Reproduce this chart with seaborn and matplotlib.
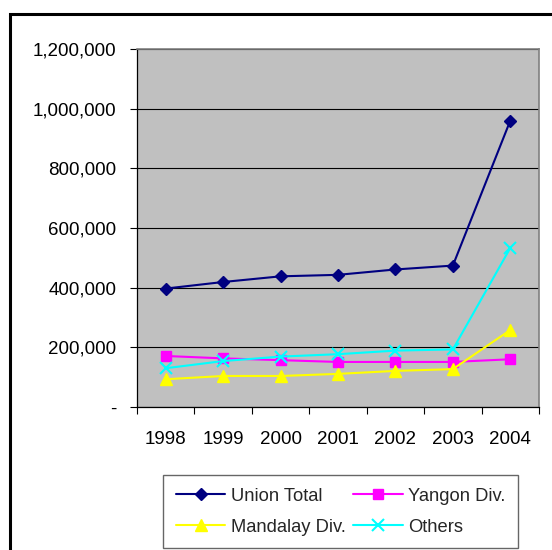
import matplotlib
matplotlib.use("Agg")
import matplotlib.pyplot as plt
import matplotlib.ticker as mticker
from matplotlib.patches import Rectangle
import seaborn as sns
import pandas as pd
import numpy as np

years = ["1998", "1999", "2000", "2001", "2002", "2003", "2004"]
union_total = [397000, 419000, 438000, 443000, 461000, 474000, 960000]
yangon_div = [171000, 163000, 157000, 151000, 151000, 151000, 160000]
mandalay_div = [93000, 104000, 104000, 111000, 121000, 127000, 258000]
others = [130000, 154000, 169000, 177000, 189000, 193000, 533000]
series_names = ["Union Total", "Yangon Div.", "Mandalay Div.", "Others"]
yticks = [0, 200000, 400000, 600000, 800000, 1000000, 1200000]

colors = {"Union Total": "#000080", "Yangon Div.": "#FF00FF",
          "Mandalay Div.": "#FFFF00", "Others": "#00FFFF"}
markers = {"Union Total": "D", "Yangon Div.": "s",
           "Mandalay Div.": "^", "Others": "x"}
msizes = {"Union Total": 6.5, "Yangon Div.": 7.5, "Mandalay Div.": 8, "Others": 8}

rows = []
for name, vals in zip(series_names, [union_total, yangon_div, mandalay_div, others]):
    for i, (y, v) in enumerate(zip(years, vals)):
        rows.append({"pos": i, "year": y, "value": v, "series": name})
df = pd.DataFrame(rows)

sns.set_theme(style="white")
plt.rcParams["font.family"] = ["Liberation Sans", "DejaVu Sans"]

fig = plt.figure(figsize=(5.52, 5.50), dpi=100)
W, H = 552, 550
ax = fig.add_axes([137 / W, 1 - 407 / H, (539 - 137) / W, (407 - 49) / H])
ax.set_facecolor("#C0C0C0")

for name in series_names:
    sub = df[df["series"] == name]
    sns.lineplot(data=sub, x="pos", y="value", ax=ax, color=colors[name],
                 marker=markers[name], markersize=msizes[name],
                 markeredgecolor=colors[name], markeredgewidth=1.5 if name == "Others" else 1,
                 linewidth=1.5, label=name, zorder=3)

ax.set_xlim(-0.5, len(years) - 0.5)
ax.set_ylim(0, 1200000)
ax.set_yticks(yticks)
ax.yaxis.set_major_formatter(mticker.FuncFormatter(lambda v, p: "-" if v == 0 else f"{int(v):,}"))
ax.set_xticks(np.arange(-0.5, len(years), 1.0))
ax.set_xticklabels([])
ax.set_xticks(np.arange(len(years)), minor=True)
ax.set_xticklabels(years, minor=True)
ax.tick_params(axis="x", which="major", direction="out", length=5, width=0.8, color="black", bottom=True)
ax.tick_params(axis="x", which="minor", length=0, pad=17, labelsize=13.5, colors="black")
ax.tick_params(axis="y", direction="out", length=5, width=0.8, color="black", left=True, pad=10,
               labelsize=13.5, labelcolor="black")
ax.set_xlabel("")
ax.set_ylabel("")
ax.grid(axis="y", color="black", linewidth=0.8)
ax.grid(axis="x", visible=False)
ax.set_axisbelow(True)
for s in ["top", "right"]:
    ax.spines[s].set_color("#808080")
    ax.spines[s].set_linewidth(1.2)
for s in ["left", "bottom"]:
    ax.spines[s].set_color("black")
    ax.spines[s].set_linewidth(0.9)

handles, labels = ax.get_legend_handles_labels()
if ax.get_legend():
    ax.get_legend().remove()
order = [0, 2, 1, 3]
leg = fig.legend([handles[i] for i in order], [labels[i] for i in order],
                 ncol=2, loc="upper left", bbox_to_anchor=(163 / W, 1 - 475 / H),
                 frameon=True, fancybox=False, edgecolor="#404040", fontsize=13.2,
                 handlelength=2.7, handletextpad=0.3, columnspacing=0.4,
                 labelspacing=0.75, borderpad=0.7, borderaxespad=0)
leg.get_frame().set_linewidth(1.0)
leg.get_frame().set_facecolor("white")

fig.patches.append(Rectangle((10 / W, -0.1), 1.2, (1 - 14 / H) + 0.1, transform=fig.transFigure,
                             fill=False, edgecolor="black", linewidth=2.2))

fig.savefig("out.png", dpi=100)
